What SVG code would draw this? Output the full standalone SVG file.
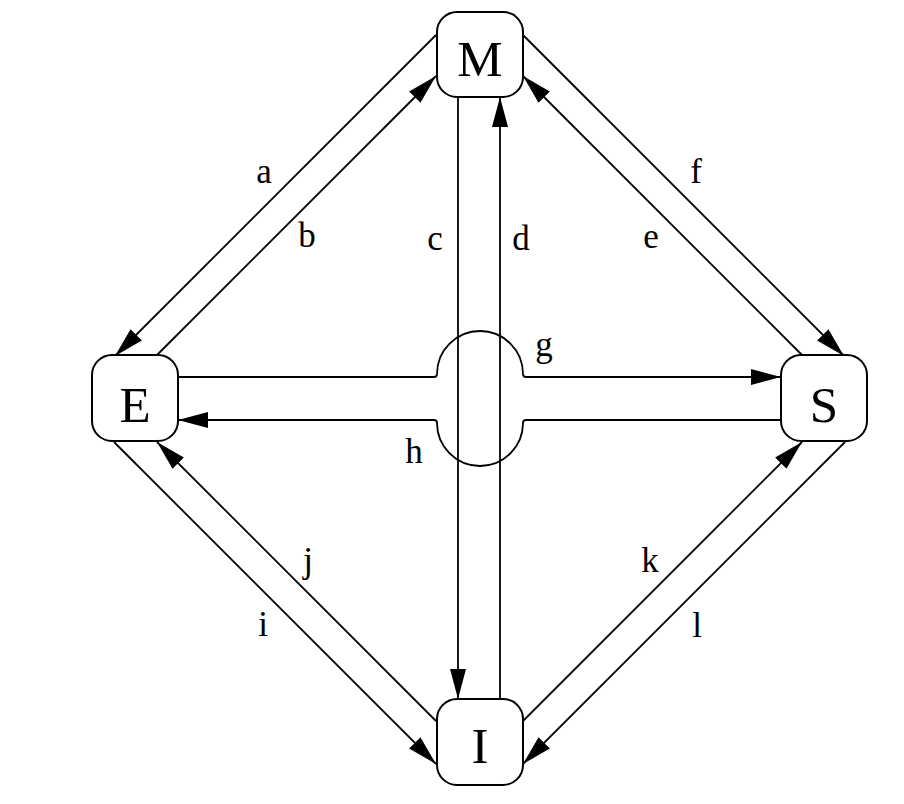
<svg xmlns="http://www.w3.org/2000/svg" width="904" height="804" viewBox="0 0 904 804">
<defs>
<marker id="arr" markerUnits="userSpaceOnUse" markerWidth="30" markerHeight="16" refX="30" refY="8" orient="auto" viewBox="0 0 30 16">
<path d="M0,0 L30,8 L0,16 z" fill="#000"/>
</marker>
<style>
.node rect{fill:#fff;stroke:#000;stroke-width:2}
.node text{font-family:"Liberation Serif","Times New Roman",serif;font-size:51px;text-anchor:middle;fill:#000}
.edge{fill:none;stroke:#000;stroke-width:1.8}
.arw{marker-end:url(#arr)}
.lbl{font-family:"Liberation Serif","Times New Roman",serif;font-size:35px;text-anchor:middle;fill:#000}
</style>
</defs>
<rect width="904" height="804" fill="#fff"/>
<g id="connectors">
<path class="edge arw" d="M436,35 L115,356"/>
<path class="edge arw" d="M157,355 L436,76"/>
<path class="edge arw" d="M523,35 L844,356"/>
<path class="edge arw" d="M802,355 L523,76"/>
<path class="edge arw" d="M114,442 L436,764"/>
<path class="edge arw" d="M436,721 L157,442"/>
<path class="edge arw" d="M523,721 L802,442"/>
<path class="edge arw" d="M845,442 L523,764"/>
<path class="edge arw" d="M458,97 L458,699"/>
<path class="edge arw" d="M500,699 L500,97"/>
<path class="edge arw" d="M178,377 H434 Q437,377 437,374 A43,43 0 0 1 523,374 Q523,377 526,377 H781"/>
<path class="edge arw" d="M781,420 H526 Q523,420 523,423 A43,43 0 0 1 437,423 Q437,420 434,420 H178"/>
</g>
<g id="labels">
<text class="lbl" x="264" y="183">a</text>
<text class="lbl" x="307" y="247">b</text>
<text class="lbl" x="435" y="250">c</text>
<text class="lbl" x="521" y="250">d</text>
<text class="lbl" x="651" y="248">e</text>
<text class="lbl" x="696" y="183">f</text>
<text class="lbl" x="544" y="356">g</text>
<text class="lbl" x="414" y="463">h</text>
<text class="lbl" x="263" y="636">i</text>
<text class="lbl" x="308" y="572">j</text>
<text class="lbl" x="650" y="572">k</text>
<text class="lbl" x="697" y="637">l</text>
</g>
<g id="node-M" class="node"><rect x="437" y="12" width="86" height="85" rx="20"/><text x="480" y="76">M</text></g>
<g id="node-E" class="node"><rect x="92" y="355" width="86" height="86" rx="20"/><text x="135" y="422">E</text></g>
<g id="node-S" class="node"><rect x="781" y="355" width="86" height="86" rx="20"/><text x="824" y="422">S</text></g>
<g id="node-I" class="node"><rect x="437" y="699" width="86" height="86" rx="20"/><text x="480" y="763">I</text></g>
</svg>
